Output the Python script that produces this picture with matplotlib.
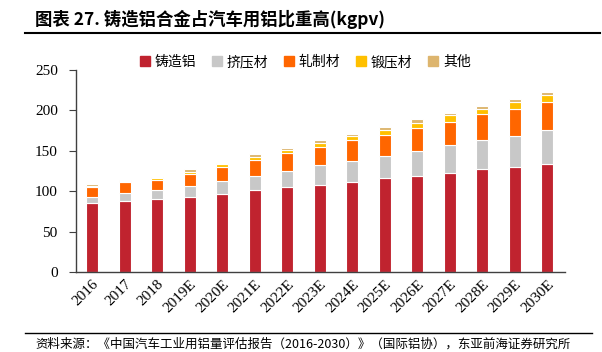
import matplotlib
matplotlib.use("Agg")
import matplotlib.pyplot as plt
from matplotlib.lines import Line2D
import numpy as np

years = ["2016", "2017", "2018", "2019E", "2020E", "2021E", "2022E", "2023E",
         "2024E", "2025E", "2026E", "2027E", "2028E", "2029E", "2030E"]
cast = [85, 88, 90, 93, 97, 101, 105, 108, 112, 116, 119, 123, 127, 130, 134]
extruded = [8, 10, 11, 13, 16, 18, 20, 24, 26, 28, 31, 34, 36, 39, 42]
rolled = [12, 13, 13, 15, 17, 20, 22, 23, 25, 26, 28, 29, 32, 33, 34]
forged = [2, 1.5, 2, 3, 3.5, 4, 4.5, 5, 5, 6, 7, 8, 7, 8, 9]
other = [1.5, 1.5, 1.5, 3, 2, 3, 2.5, 3, 3, 4, 4, 3, 4, 4.5, 4]

series = [("铸造铝", cast, "#C0232F"), ("挤压材", extruded, "#C8C8C8"),
          ("轧制材", rolled, "#FF6600"), ("锻压材", forged, "#FFC000"),
          ("其他", other, "#DDB56E")]

cjk = ["Noto Sans CJK SC", "DejaVu Sans"]
serif = ["Liberation Serif", "DejaVu Serif"]

fig = plt.figure(figsize=(6.02, 3.52), dpi=100)
ax = fig.add_axes([0.126, 0.227, 0.8125, 0.574])

x = np.arange(len(years))
bottom = np.zeros(len(years))
handles = []
for name, vals, col in series:
    v = np.array(vals, dtype=float)
    ax.bar(x, v, 0.37, bottom=bottom, color=col, edgecolor="white", linewidth=0.8)
    bottom += v
    handles.append(Line2D([], [], marker="s", linestyle="none", markersize=7,
                          markerfacecolor=col, markeredgecolor=col, label=name))

ax.set_xlim(-0.5, 14.55)
ax.set_ylim(0, 250)
ax.set_yticks([0, 50, 100, 150, 200, 250])
ax.set_xticks(x)
ax.set_xticklabels(years, rotation=45, ha="right", rotation_mode="anchor",
                   fontfamily=serif, fontsize=11)
for lab in ax.get_yticklabels():
    lab.set_fontfamily(serif)
    lab.set_fontsize(11)
ax.tick_params(axis="x", length=0, pad=4)
ax.tick_params(axis="y", length=5, direction="out", color="#404040", pad=8)
for s in ["top", "right"]:
    ax.spines[s].set_visible(False)
for s in ["left", "bottom"]:
    ax.spines[s].set_color("#404040")
    ax.spines[s].set_linewidth(1.0)

fig.legend(handles=handles, loc="center", bbox_to_anchor=(305 / 602, 1 - 62 / 352),
           ncol=5, frameon=False, prop={"family": cjk, "size": 10},
           handletextpad=0.3, columnspacing=1.1, handlelength=0.8)

fig.text(35 / 602, 1 - 19 / 352, "图表 27. 铸造铝合金占汽车用铝比重高(kgpv)",
         fontfamily=cjk, fontsize=12.5, fontweight="bold", va="center", ha="left")
fig.add_artist(Line2D([25 / 602, 600 / 602], [1 - 33 / 352, 1 - 33 / 352],
                      color="black", linewidth=1.5, transform=fig.transFigure))
fig.add_artist(Line2D([25 / 602, 592 / 602], [1 - 333 / 352, 1 - 333 / 352],
                      color="black", linewidth=1.0, transform=fig.transFigure))
fig.text(35 / 602, 1 - 344 / 352,
         "资料来源：《中国汽车工业用铝量评估报告（2016-2030）》（国际铝协），东亚前海证券研究所",
         fontfamily=cjk, fontsize=9, va="center", ha="left")

fig.savefig("out.png", dpi=100)
